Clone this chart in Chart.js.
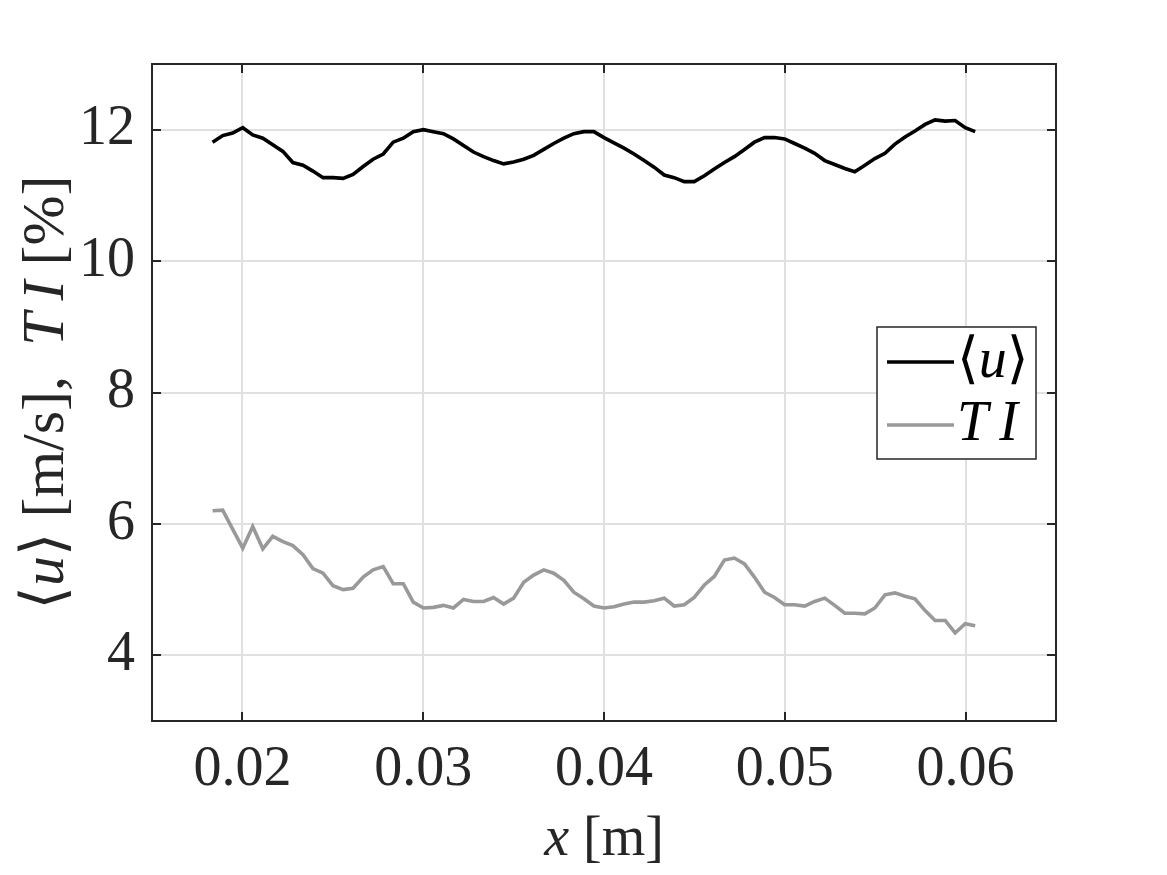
<!DOCTYPE html>
<html>
<head>
<meta charset="utf-8">
<script src="https://cdn.jsdelivr.net/npm/chart.js@4/dist/chart.umd.min.js"></script>
<style>
  html, body { margin: 0; padding: 0; background: #fff; }
  canvas { display: block; }
</style>
</head>
<body>
<canvas id="profile" width="1167" height="875"></canvas>
<script>
// streamwise position [m]
const xPos = [
  0.01835, 0.01891, 0.01946, 0.02002, 0.02057, 0.02113, 0.02168, 0.02224, 0.02279, 0.02335,
  0.0239, 0.02446, 0.02501, 0.02557, 0.02612, 0.02668, 0.02723, 0.02779, 0.02834, 0.0289,
  0.02945, 0.03001, 0.03056, 0.03112, 0.03167, 0.03223, 0.03278, 0.03334, 0.03389, 0.03445,
  0.035, 0.03556, 0.03611, 0.03667, 0.03722, 0.03778, 0.03833, 0.03889, 0.03944, 0.04,
  0.04055, 0.04111, 0.04166, 0.04222, 0.04277, 0.04333, 0.04388, 0.04444, 0.04499, 0.04555,
  0.0461, 0.04666, 0.04721, 0.04777, 0.04832, 0.04888, 0.04943, 0.04999, 0.05054, 0.0511,
  0.05165, 0.05221, 0.05276, 0.05332, 0.05387, 0.05443, 0.05498, 0.05554, 0.05609, 0.05665,
  0.0572, 0.05776, 0.05831, 0.05887, 0.05942, 0.05998, 0.06053
];

// mean velocity <u> [m/s]
const meanU = [
  11.81, 11.91, 11.95, 12.03, 11.92, 11.87, 11.77, 11.67, 11.50, 11.46,
  11.37, 11.27, 11.27, 11.26, 11.32, 11.44, 11.55, 11.63, 11.81, 11.87,
  11.97, 12.00, 11.97, 11.94, 11.86, 11.76, 11.66, 11.59, 11.53, 11.48,
  11.51, 11.55, 11.61, 11.70, 11.79, 11.87, 11.94, 11.97, 11.97, 11.88,
  11.80, 11.72, 11.63, 11.53, 11.43, 11.31, 11.27, 11.21, 11.21, 11.30,
  11.40, 11.50, 11.59, 11.70, 11.81, 11.88, 11.88, 11.86, 11.79, 11.72,
  11.64, 11.53, 11.47, 11.41, 11.36, 11.46, 11.56, 11.64, 11.78, 11.89,
  11.98, 12.08, 12.15, 12.13, 12.14, 12.03, 11.97
];

// turbulence intensity TI [%]
const turbInt = [
  6.20, 6.21, 5.92, 5.63, 5.96, 5.62, 5.81, 5.73, 5.67, 5.53,
  5.32, 5.25, 5.06, 5.00, 5.02, 5.19, 5.30, 5.35, 5.09, 5.09,
  4.81, 4.72, 4.73, 4.76, 4.72, 4.85, 4.82, 4.82, 4.88, 4.78,
  4.87, 5.11, 5.22, 5.30, 5.25, 5.14, 4.96, 4.86, 4.75, 4.72,
  4.74, 4.78, 4.81, 4.81, 4.83, 4.87, 4.75, 4.77, 4.88, 5.07,
  5.20, 5.45, 5.48, 5.39, 5.19, 4.96, 4.88, 4.77, 4.77, 4.75,
  4.82, 4.87, 4.76, 4.64, 4.64, 4.63, 4.72, 4.92, 4.95, 4.90,
  4.86, 4.68, 4.53, 4.53, 4.34, 4.48, 4.45
];

const xTicks = [0.02, 0.03, 0.04, 0.05, 0.06];
const yTicks = [4, 6, 8, 10, 12];

const FAMILY = "'Liberation Serif', 'DejaVu Serif', serif";
const INK = '#262626';
const fontOf = (size, italic) => (italic ? 'italic ' : '') + size + 'px ' + FAMILY;

// draws a run of [text, italic] pieces starting at x (or centred on x)
function drawRich(ctx, parts, x, y, size, centred) {
  const widths = parts.map(([t, it]) => { ctx.font = fontOf(size, it); return ctx.measureText(t).width; });
  let cx = centred ? x - widths.reduce((a, b) => a + b, 0) / 2 : x;
  parts.forEach(([t, it], i) => {
    ctx.font = fontOf(size, it);
    ctx.fillText(t, cx, y);
    cx += widths[i];
  });
}

const legendText = [
  [['\u27E8', false], ['u', true], ['\u27E9', false]],
  [['T\u2009I', true]]
];

const framePlugin = {
  id: 'frame',
  afterDraw(chart) {
    const { ctx, chartArea: a, scales: { x, y } } = chart;
    ctx.save();
    ctx.strokeStyle = INK;
    ctx.lineWidth = 2;
    ctx.strokeRect(a.left, a.top, a.right - a.left, a.bottom - a.top);

    // inward ticks on all four sides
    ctx.beginPath();
    xTicks.forEach(v => {
      const px = Math.round(x.getPixelForValue(v));
      ctx.moveTo(px, a.bottom); ctx.lineTo(px, a.bottom - 9);
      ctx.moveTo(px, a.top); ctx.lineTo(px, a.top + 9);
    });
    yTicks.forEach(v => {
      const py = Math.round(y.getPixelForValue(v));
      ctx.moveTo(a.left, py); ctx.lineTo(a.left + 9, py);
      ctx.moveTo(a.right, py); ctx.lineTo(a.right - 9, py);
    });
    ctx.stroke();

    // axis titles
    ctx.fillStyle = INK;
    ctx.textBaseline = 'alphabetic';
    drawRich(ctx, [['x', true], [' [m]', false]], (a.left + a.right) / 2, 855, 56, true);

    ctx.save();
    ctx.translate(63, (a.top + a.bottom) / 2);
    ctx.rotate(-Math.PI / 2);
    drawRich(ctx, [['\u27E8', false], ['u', true], ['\u27E9 [m/s],  ', false], ['T\u2009I', true], [' [%]', false]], 0, 0, 60, true);
    ctx.restore();

    // legend
    const box = { l: 877, t: 327, r: 1036, b: 459 };
    ctx.fillStyle = '#fff';
    ctx.fillRect(box.l, box.t, box.r - box.l, box.b - box.t);
    ctx.lineWidth = 1.5;
    ctx.strokeStyle = INK;
    ctx.strokeRect(box.l, box.t, box.r - box.l, box.b - box.t);
    const rows = [362, 425];
    chart.data.datasets.forEach((ds, i) => {
      ctx.strokeStyle = ds.borderColor;
      ctx.lineWidth = 3.6;
      ctx.beginPath();
      ctx.moveTo(887, rows[i]);
      ctx.lineTo(954, rows[i]);
      ctx.stroke();
      ctx.fillStyle = '#000';
      drawRich(ctx, legendText[i], 957, rows[i] + 15, 56, false);
    });
    ctx.restore();
  }
};

const toPoints = vals => vals.map((v, i) => ({ x: xPos[i], y: v }));

new Chart(document.getElementById('profile'), {
  type: 'line',
  data: {
    datasets: [
      { label: '<u>', data: toPoints(meanU), borderColor: '#000000', borderWidth: 3.6, pointRadius: 0, tension: 0 },
      { label: 'TI', data: toPoints(turbInt), borderColor: '#999999', borderWidth: 3.6, pointRadius: 0, tension: 0 }
    ]
  },
  options: {
    responsive: false,
    animation: false,
    layout: { padding: { top: 64, right: 111, left: 0, bottom: 0 } },
    plugins: { legend: { display: false }, tooltip: { enabled: false } },
    scales: {
      x: {
        type: 'linear',
        min: 0.015,
        max: 0.065,
        afterBuildTicks: s => { s.ticks = xTicks.map(v => ({ value: v })); },
        afterFit: s => { s.height = 154; },
        grid: { color: '#e0e0e0', lineWidth: 2, drawTicks: false },
        border: { display: false },
        ticks: {
          color: INK,
          padding: 16,
          maxRotation: 0,
          font: { family: FAMILY, size: 56 },
          callback: v => v.toFixed(2)
        }
      },
      y: {
        min: 3,
        max: 13,
        afterBuildTicks: s => { s.ticks = yTicks.map(v => ({ value: v })); },
        afterFit: s => { s.width = 152; },
        grid: { color: '#e0e0e0', lineWidth: 2, drawTicks: false },
        border: { display: false },
        ticks: {
          color: INK,
          padding: 17,
          font: { family: FAMILY, size: 56 },
          callback: v => String(v)
        }
      }
    }
  },
  plugins: [framePlugin]
});
</script>
</body>
</html>
